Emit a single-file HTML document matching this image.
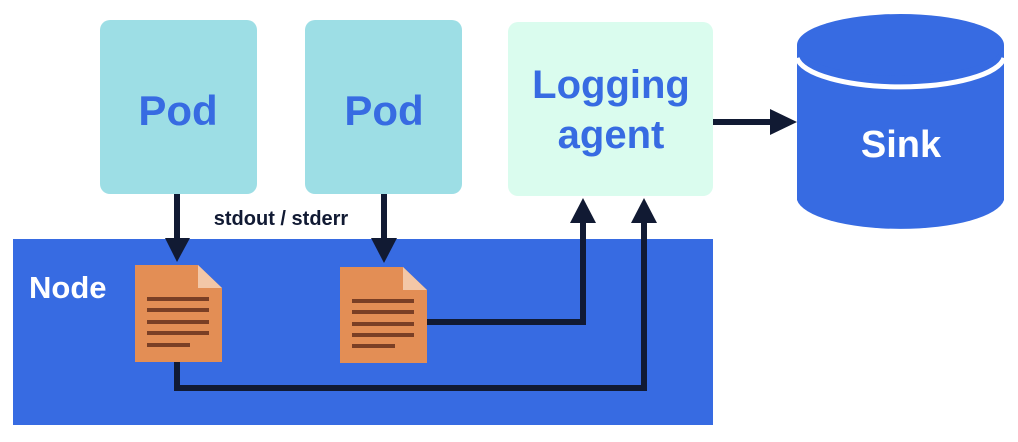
<!DOCTYPE html>
<html><head><meta charset="utf-8"><style>
html,body{margin:0;padding:0;background:#fff;width:1018px;height:442px;overflow:hidden}
svg text{font-family:"Liberation Sans",sans-serif;font-weight:bold}
</style></head><body>
<svg width="1018" height="442" viewBox="0 0 1018 442" xmlns="http://www.w3.org/2000/svg">
<rect x="13" y="239" width="700" height="186" fill="#376be2"/>
<rect x="100" y="20" width="157" height="174" rx="10" fill="#9ddee5"/>
<rect x="305" y="20" width="157" height="174" rx="10" fill="#9ddee5"/>
<rect x="508" y="22" width="205" height="174" rx="10" fill="#dafcee"/>
<text x="178" y="125" font-size="42" fill="#376be2" text-anchor="middle">Pod</text>
<text x="384" y="125" font-size="42" fill="#376be2" text-anchor="middle">Pod</text>
<text x="611" y="98" font-size="40" fill="#376be2" text-anchor="middle">Logging</text>
<text x="611" y="148" font-size="40" fill="#376be2" text-anchor="middle">agent</text>
<path d="M797 45 L797 200 A104 32 0 0 0 1004 200 L1004 45 Z" fill="#376be2"/>
<path d="M797 58 A104 32 0 0 0 1004 58" fill="none" stroke="#fff" stroke-width="5"/>
<ellipse cx="900.5" cy="45" rx="103.5" ry="31" fill="#376be2"/>
<text x="901" y="157" font-size="38" fill="#fff" text-anchor="middle">Sink</text>
<text x="29" y="298" font-size="31" fill="#fff">Node</text>
<text x="281" y="225" font-size="20" fill="#111a33" text-anchor="middle">stdout / stderr</text>
<g stroke="#111a33" stroke-width="6" fill="none">
<line x1="177" y1="194" x2="177" y2="242"/>
<line x1="384" y1="194" x2="384" y2="242"/>
<polyline points="427,322 583,322 583,220"/>
<polyline points="177,362 177,388 644,388 644,220"/>
<line x1="713" y1="122" x2="775" y2="122"/>
</g>
<g fill="#111a33">
<polygon points="165,238 190,238 177,262"/>
<polygon points="371,238 397,238 384,263"/>
<polygon points="570,223 596,223 583,198"/>
<polygon points="631,223 657,223 644,198"/>
<polygon points="770,109 770,135 797,122"/>
</g>
<g fill="#e38e55">
<path d="M135 265 L198 265 L222 288 L222 362 L135 362 Z"/>
<path d="M340 267 L403 267 L427 290 L427 363 L340 363 Z"/>
</g>
<g fill="#f3c7a7"><path d="M198 265 L222 288 L198 288 Z"/><path d="M403 267 L427 290 L403 290 Z"/></g>
<g fill="#7a3f25">
<rect x="147" y="297" width="62" height="4"/><rect x="147" y="308" width="62" height="4"/><rect x="147" y="320" width="62" height="4"/><rect x="147" y="331" width="62" height="4"/><rect x="147" y="343" width="43" height="4"/>
<rect x="352" y="299" width="62" height="4"/><rect x="352" y="310" width="62" height="4"/><rect x="352" y="322" width="62" height="4"/><rect x="352" y="333" width="62" height="4"/><rect x="352" y="344" width="43" height="4"/>
</g>
</svg>
</body></html>
